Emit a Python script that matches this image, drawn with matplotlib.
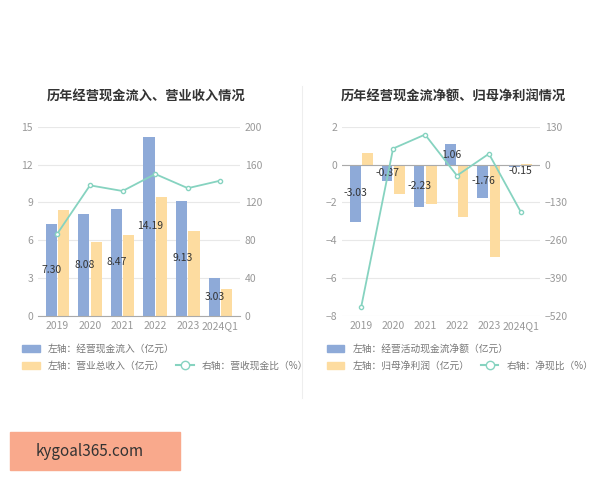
import numpy as np
import matplotlib
matplotlib.use("Agg")
import matplotlib.pyplot as plt
from matplotlib.lines import Line2D
from matplotlib.patches import Patch, Rectangle

plt.rcParams['font.family'] = ['Noto Sans CJK SC', 'DejaVu Sans']

years = ["2019", "2020", "2021", "2022", "2023", "2024Q1"]
# left chart
cash_in = [7.30, 8.08, 8.47, 14.19, 9.13, 3.03]
revenue = [8.40, 5.85, 6.40, 9.45, 6.70, 2.15]
cash_ratio = [87, 138, 132, 150, 135, 143]
# right chart
net_cf = [-3.03, -0.87, -2.23, 1.06, -1.76, -0.15]
net_profit = [0.60, -1.55, -2.10, -2.80, -4.90, 0.03]
net_ratio = [-490, 55, 103, -38, 37, -163]

BLUE, ORANGE, TEAL = "#8eaad8", "#fddca0", "#86d3c0"
GRID, TICK = "#e8e8e8", "#999999"

fig = plt.figure(figsize=(6, 4.8), dpi=100)
x = np.arange(len(years))
w = 0.34


def style(ax, ax2):
    for a in (ax, ax2):
        for s in a.spines.values():
            s.set_visible(False)
        a.tick_params(colors=TICK, labelsize=7.5, length=0)
    ax.spines["bottom"].set_visible(True)
    ax.spines["bottom"].set_color("#aaaaaa")
    ax.grid(axis="y", color=GRID, lw=0.8)
    ax.set_axisbelow(True)
    ax.set_xticks(x)
    ax.set_xticklabels(years)
    ax.set_xlim(-0.6, len(years) - 0.4)


def legend(ax, blue_lbl, orange_lbl, line_lbl):
    kw = dict(fontsize=7, frameon=False, handlelength=1.8, labelcolor="#777777")
    l1 = ax.legend([Patch(color=BLUE)], [blue_lbl], loc="upper left",
                   bbox_to_anchor=(-0.12, -0.1), **kw)
    ax.add_artist(l1)
    ax.legend([Patch(color=ORANGE),
               Line2D([], [], color=TEAL, marker="o", mfc="white", ms=6)],
              [orange_lbl, line_lbl], loc="upper left", ncol=2,
              bbox_to_anchor=(-0.12, -0.19), columnspacing=1.2, **kw)


# left chart
ax = fig.add_axes([0.063, 0.342, 0.337, 0.394])
ax2 = ax.twinx()
ax.bar(x - w / 2 - 0.02, cash_in, w, color=BLUE)
ax.bar(x + w / 2 + 0.02, revenue, w, color=ORANGE)
for xi, v in zip(x, cash_in):
    ax.text(xi - w / 2, v / 2, f"{v:.2f}", ha="center", va="center", fontsize=7.5,
            color="#333333")
ax2.plot(x, cash_ratio, color=TEAL, marker="o", ms=3, mfc="white", lw=1.3)
ax.set_ylim(0, 15); ax.set_yticks(range(0, 16, 3))
ax2.set_ylim(0, 200); ax2.set_yticks(range(0, 201, 40))
style(ax, ax2)
fig.text(0.243, 0.79, "历年经营现金流入、营业收入情况", ha="center", fontsize=9.5,
         fontweight="bold", color="#333333")
legend(ax, "左轴：经营现金流入（亿元）", "左轴：营业总收入（亿元）", "右轴：营收现金比（%）")

# right chart
bx = fig.add_axes([0.57, 0.342, 0.33, 0.394])
bx2 = bx.twinx()
bx.bar(x - w / 2 - 0.02, net_cf, w, color=BLUE)
bx.bar(x + w / 2 + 0.02, net_profit, w, color=ORANGE)
for xi, v in zip(x, net_cf):
    if abs(v) < 0.5:
        ty, tx = v - 0.2, xi if v > -0.3 else xi - w / 2
    else:
        ty, tx = v / 2, xi - w / 2
    bx.text(tx, ty, f"{v:.2f}", ha="center", va="center", fontsize=7.5,
            color="#333333")
bx2.plot(x, net_ratio, color=TEAL, marker="o", ms=3, mfc="white", lw=1.3)
bx.axhline(0, color="#aaaaaa", lw=0.8)
bx.set_ylim(-8, 2); bx.set_yticks(range(-8, 3, 2))
bx2.set_ylim(-520, 130); bx2.set_yticks(range(-520, 131, 130))
style(bx, bx2)
bx.spines["bottom"].set_visible(False)
fig.text(0.755, 0.79, "历年经营现金流净额、归母净利润情况", ha="center", fontsize=9.5,
         fontweight="bold", color="#333333")
legend(bx, "左轴：经营活动现金流净额（亿元）", "左轴：归母净利润（亿元）", "右轴：净现比（%）")

# separator and watermark
fig.add_artist(Line2D([0.503, 0.503], [0.17, 0.82], color="#eeeeee", lw=0.8))
fig.add_artist(Rectangle((0.017, 0.02), 0.283, 0.08, transform=fig.transFigure,
                         color="#f9a98c"))
fig.text(0.06, 0.06, "kygoal365.com", fontsize=11, va="center", color="#333333")

fig.savefig("out.png", dpi=100)
